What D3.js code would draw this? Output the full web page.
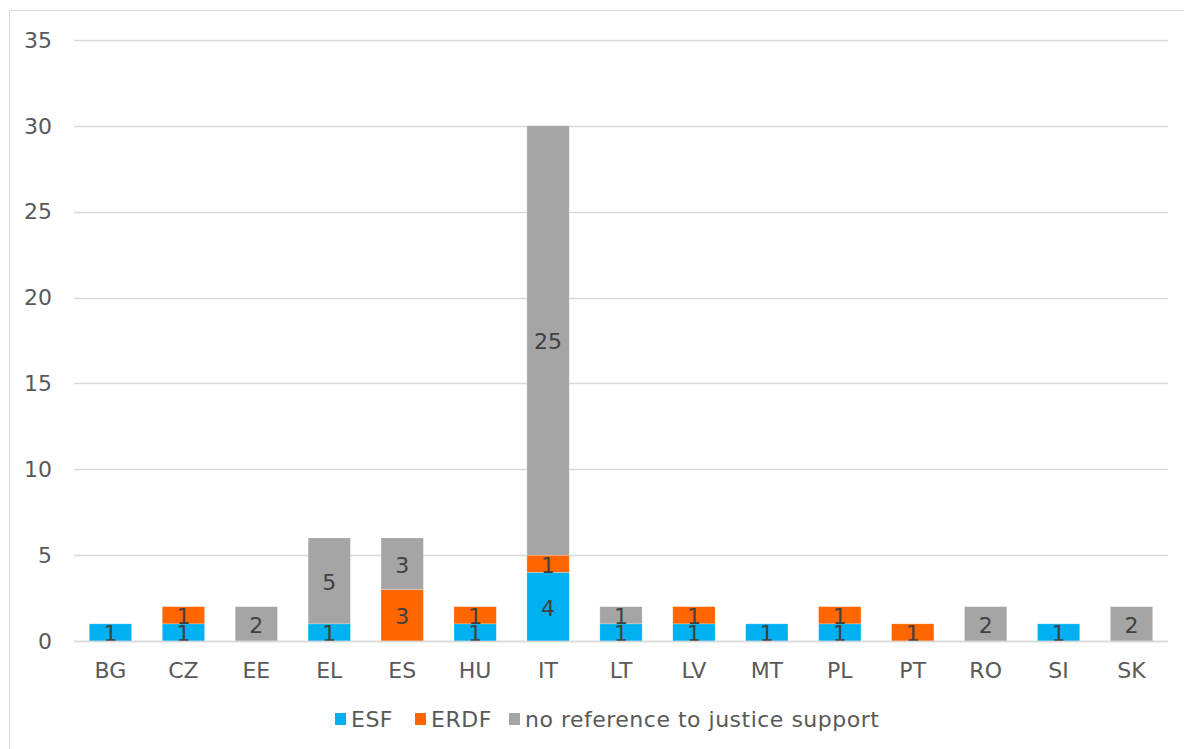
<!DOCTYPE html>
<html>
<head>
<meta charset="utf-8">
<script src="https://cdn.jsdelivr.net/npm/d3@7"></script>
<style>
  body { margin: 0; background: #fff; }
  text { font-family: Verdana, "DejaVu Sans", sans-serif; }
</style>
</head>
<body>
<script>
const countries = ['BG', 'CZ', 'EE', 'EL', 'ES', 'HU', 'IT', 'LT', 'LV', 'MT', 'PL', 'PT', 'RO', 'SI', 'SK'];
const esf  = [1, 1, 0, 1, 0, 1, 4, 1, 1, 1, 1, 0, 0, 1, 0];
const erdf = [0, 1, 0, 0, 3, 1, 1, 0, 1, 0, 1, 1, 0, 0, 0];
const none = [0, 0, 2, 5, 3, 0, 25, 1, 0, 0, 0, 0, 2, 0, 2];
const seriesNames = ['ESF', 'ERDF', 'no reference to justice support'];
const colors = ['#00b0f0', '#ff6600', '#a5a5a5'];
const yTicks = [0, 5, 10, 15, 20, 25, 30, 35];

const width = 1184, height = 749;
const margin = {top: 40, right: 16, bottom: 108, left: 74};

const svg = d3.select('body').append('svg')
    .attr('width', width)
    .attr('height', height);

svg.append('rect')
    .attr('x', 9.5).attr('y', 10.5)
    .attr('width', width - 9).attr('height', height)
    .attr('fill', 'none')
    .attr('stroke', '#d9d9d9');

const rows = countries.map((c, i) => ({country: c, ESF: esf[i], ERDF: erdf[i], 'no reference to justice support': none[i]}));
const stacked = d3.stack().keys(seriesNames)(rows);

const x = d3.scaleBand()
    .domain(countries)
    .range([margin.left, width - margin.right])
    .paddingInner(0.42)
    .paddingOuter(0.21);

const y = d3.scaleLinear()
    .domain([0, 35])
    .range([height - margin.bottom, margin.top]);

// gridlines
svg.append('g')
  .selectAll('line')
  .data(yTicks)
  .join('line')
    .attr('x1', margin.left)
    .attr('x2', width - margin.right)
    .attr('y1', d => Math.round(y(d)) + 0.5)
    .attr('y2', d => Math.round(y(d)) + 0.5)
    .attr('stroke', '#d9d9d9')
    .attr('stroke-width', 1.5);

svg.append('g')
  .selectAll('text')
  .data(yTicks)
  .join('text')
    .attr('x', 52)
    .attr('y', d => y(d))
    .attr('dy', '0.35em')
    .attr('text-anchor', 'end')
    .attr('fill', '#595959')
    .attr('font-size', 22)
    .text(d => d);

// bars
const layer = svg.append('g')
  .selectAll('g')
  .data(stacked)
  .join('g')
    .attr('fill', (d, i) => colors[i]);

layer.selectAll('rect')
  .data(d => d.filter(p => p[1] - p[0] > 0))
  .join('rect')
    .attr('x', d => x(d.data.country))
    .attr('y', d => y(d[1]))
    .attr('width', x.bandwidth())
    .attr('height', d => y(d[0]) - y(d[1]))
    .attr('stroke', '#fff')
    .attr('stroke-opacity', 0.4)
    .attr('stroke-width', 0.6);

layer.selectAll('text')
  .data(d => d.filter(p => p[1] - p[0] > 0))
  .join('text')
    .attr('x', d => x(d.data.country) + x.bandwidth() / 2)
    .attr('y', d => y((d[0] + d[1]) / 2) + 1)
    .attr('dy', '0.36em')
    .attr('text-anchor', 'middle')
    .attr('fill', '#404040')
    .attr('font-size', 22)
    .text(d => d[1] - d[0]);

// baseline
svg.append('line')
    .attr('x1', margin.left)
    .attr('x2', width - margin.right)
    .attr('y1', Math.round(y(0)) + 0.5)
    .attr('y2', Math.round(y(0)) + 0.5)
    .attr('stroke', '#d9d9d9')
    .attr('stroke-width', 1.5);

// x labels
svg.append('g')
  .selectAll('text')
  .data(countries)
  .join('text')
    .attr('x', d => x(d) + x.bandwidth() / 2)
    .attr('y', 670)
    .attr('dy', '0.35em')
    .attr('text-anchor', 'middle')
    .attr('fill', '#595959')
    .attr('font-size', 22)
    .text(d => d);

// legend
const legendX = [335, 415, 509];
const legend = svg.append('g')
  .selectAll('g')
  .data(seriesNames)
  .join('g')
    .attr('transform', (d, i) => `translate(${legendX[i]},719)`);

legend.append('rect')
    .attr('x', 0).attr('y', -6)
    .attr('width', 11).attr('height', 12)
    .attr('fill', (d, i) => colors[i]);

legend.append('text')
    .attr('x', 16)
    .attr('dy', '0.35em')
    .attr('fill', '#595959')
    .attr('font-size', 22)
    .attr('letter-spacing', 0.5)
    .text(d => d);
</script>
</body>
</html>
